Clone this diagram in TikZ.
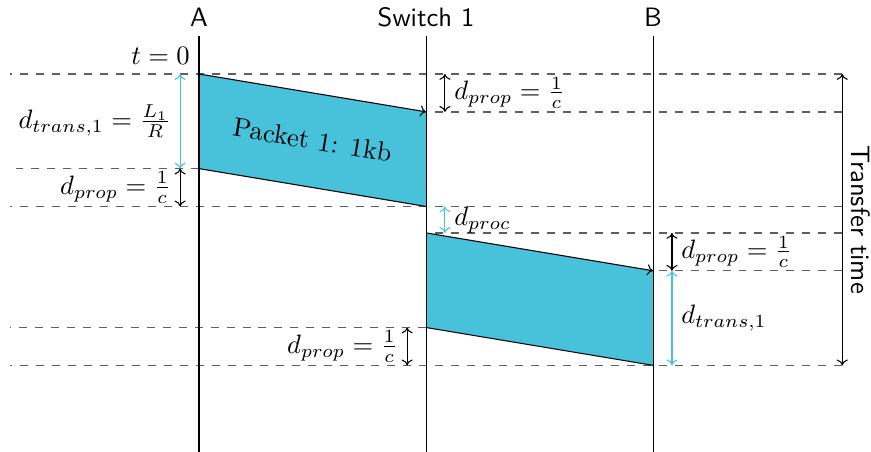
\documentclass[tikz,border=0pt]{standalone}
\usetikzlibrary{calc,arrows.meta}
\definecolor{pkt}{RGB}{71,194,218}
\definecolor{dashgray}{RGB}{95,95,95}
\begin{document}
\begin{tikzpicture}[x=0.5cm,y=0.5cm,
  >={To[length=2.2pt,width=4.2pt]},
  guide/.style={dashed,dashgray,line width=0.5pt},
  pline/.style={black},
  darrow/.style={<->,black},
  carrow/.style={<->,pkt},
  packet/.style={fill=pkt},
  hostlabel/.style={font=\sffamily}]
\useasboundingbox (-5.26,-9.99) rectangle (17.76,1.956);
% time levels
\def\tA{0} \def\tB{-1} \def\tC{-2.5} \def\tD{-3.5}
\def\tE{-4.2} \def\tF{-5.2} \def\tG{-6.7} \def\tH{-7.7}
% guide lines
\draw[guide] (17,\tA) -- (-5,\tA);
\draw[guide] (17,\tB) -- (6,\tB);
\draw[guide] (0,\tC) -- (-5,\tC);
\draw[guide] (17,\tD) -- (-5,\tD);
\draw[guide] (17,\tE) -- (6,\tE);
\draw[guide] (17,\tF) -- (12,\tF);
\draw[guide] (6,\tG) -- (-5,\tG);
\draw[guide] (17,\tH) -- (-5,\tH);
% packet corners
\coordinate (p1a) at (0,\tA);
\coordinate (p1b) at (6,\tB);
\coordinate (p1c) at (6,\tD);
\coordinate (p1d) at (0,\tC);
\coordinate (p2a) at (6,\tE);
\coordinate (p2b) at (12,\tF);
\coordinate (p2c) at (12,\tH);
\coordinate (p2d) at (6,\tG);
\fill[packet] (p1a) -- (p1b) -- (p1c) -- (p1d) -- cycle;
\fill[packet] (p2a) -- (p2b) -- (p2c) -- (p2d) -- cycle;
\draw[->] (p1a) -- (p1b);
\draw (p1d) -- (p1c);
\draw[->] (p2a) -- (p2b);
\draw (p2d) -- (p2c);
\node[rotate=-9.46] (pk1) at (3,-1.75) {Packet 1: 1kb};
% host lines
\coordinate (Atop) at (0,1); \coordinate (Abot) at (0,-10);
\coordinate (Stop) at (6,1); \coordinate (Sbot) at (6,-10);
\coordinate (Btop) at (12,1); \coordinate (Bbot) at (12,-10);
\draw[pline] (Atop) -- (Abot);
\draw[pline] (Stop) -- (Sbot);
\draw[pline] (Btop) -- (Bbot);
\node[hostlabel,above] (lA) at (Atop) {A};
\node[hostlabel,above] (lS) at (Stop) {Switch 1};
\node[hostlabel,above] (lB) at (Btop) {B};
\node[above left] (t0) at (p1a) {$t=0$};
% delay arrows
\coordinate (a1) at (-0.5,\tA); \coordinate (a2) at (-0.5,\tC); \coordinate (a3) at (-0.5,\tD);
\draw[carrow] (a1) -- node[left,black] (ltr) {$d_{trans,1}=\frac{L_1}{R}$} (a2);
\draw[darrow] (a2) -- node[left] (lpr1) {$d_{prop}=\frac{1}{c}$} (a3);
\coordinate (b1) at (6.5,\tA); \coordinate (b2) at (6.5,\tB);
\draw[darrow] (b1) -- node[right] (lpr2) {$d_{prop}=\frac{1}{c}$} (b2);
\coordinate (b3) at (6.5,\tD); \coordinate (b4) at (6.5,\tE);
\draw[carrow] (b3) -- node[right,black] (lpc) {$d_{proc}$} (b4);
\coordinate (c1) at (12.5,\tE); \coordinate (c2) at (12.5,\tF); \coordinate (c3) at (12.5,\tH);
\draw[darrow] (c1) -- node[right] (lpr3) {$d_{prop}=\frac{1}{c}$} (c2);
\draw[carrow] (c2) -- node[right,black] (ltr2) {$d_{trans,1}$} (c3);
\coordinate (d1) at (5.5,\tG); \coordinate (d2) at (5.5,\tH);
\draw[darrow] (d1) -- node[left] (lpr4) {$d_{prop}=\frac{1}{c}$} (d2);
\coordinate (e1) at (17,\tA); \coordinate (e2) at (17,\tH);
\draw[darrow] (e1) -- node[hostlabel,rotate=-90,anchor=south] (ltt) {Transfer time} (e2);
\end{tikzpicture}
\end{document}
